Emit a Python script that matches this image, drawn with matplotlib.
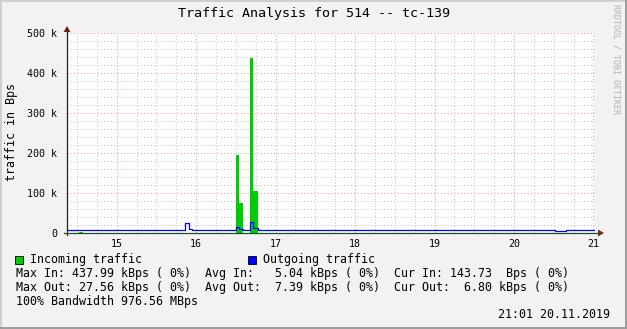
#!/usr/bin/env python3

# Traffic graph for tc-139, redrawn in the look of an rrdtool graph.

import numpy as np
import matplotlib
matplotlib.use('Agg')
import matplotlib.pyplot as plt
from matplotlib.patches import Rectangle, Polygon

# step edges (day of month) and values in kBps
t = [14.374, 14.525, 14.575, 15.865, 15.910, 15.944, 16.502, 16.540, 16.586,
     16.678, 16.721, 16.775, 20.516, 20.649, 21.02]
in_k = [0.3, 3.0, 0.3, 0.3, 0.3, 0.3, 195.0, 75.0, 0.3,
        437.99, 105.0, 0.3, 0.3, 0.3, 0.3]
out_k = [7.5, 7.5, 7.5, 24.0, 10.0, 7.5, 14.0, 9.0, 7.5,
         27.56, 12.5, 7.5, 4.0, 7.5, 7.5]

day_ticks = [15, 16, 17, 18, 19, 20, 21]
y_ticks = [0, 100, 200, 300, 400, 500]
y_labels = ['0', '100 k', '200 k', '300 k', '400 k', '500 k']

title = 'Traffic Analysis for 514 -- tc-139'
legend_in = 'Incoming traffic'
legend_out = 'Outgoing traffic'
line_in = 'Max In: 437.99 kBps ( 0%)  Avg In:   5.04 kBps ( 0%)  Cur In: 143.73  Bps ( 0%)'
line_out = 'Max Out: 27.56 kBps ( 0%)  Avg Out:  7.39 kBps ( 0%)  Cur Out:  6.80 kBps ( 0%)'
line_bw = '100% Bandwidth 976.56 MBps'
stamp = '21:01 20.11.2019'

W, H = 627, 329
mono = 'DejaVu Sans Mono'

fig = plt.figure(figsize=(W/100, H/100), dpi=100)
fig.patch.set_facecolor('#f2f2f2')

def fx(px):
    return px / W

def fy(py):
    return 1 - py / H

# frame shading like rrdtool
fig.add_artist(Rectangle((0, 0), fx(2), 1, transform=fig.transFigure, color='#cfcfcf', lw=0))
fig.add_artist(Rectangle((0, fy(2)), 1, fx(2) * W / H, transform=fig.transFigure, color='#cfcfcf', lw=0))
fig.add_artist(Rectangle((fx(625), 0), fx(2), 1, transform=fig.transFigure, color='#9e9e9e', lw=0))
fig.add_artist(Rectangle((0, 0), 1, 2 / H, transform=fig.transFigure, color='#9e9e9e', lw=0))

x0, x1 = 67, 595
y0, y1 = 233, 33
ax = fig.add_axes([fx(x0), fy(y0), fx(x1 - x0), (y0 - y1) / H])
ax.set_facecolor('white')
ax.set_xlim(14.374, 21.02)
ax.set_ylim(0, 500)
for s in ax.spines.values():
    s.set_visible(False)

# grid
for v in np.arange(14.5, 21.01, 0.25):
    if abs(v - round(v)) > 1e-6:
        ax.axvline(v, color='#c8c8c8', lw=0.8, ls=(0, (1, 2)), zorder=0)
for v in range(20, 500, 20):
    if v % 100:
        ax.axhline(v, color='#c8c8c8', lw=0.8, ls=(0, (1, 2)), zorder=0)
for v in day_ticks:
    ax.axvline(v, color='#e8a0a0', lw=0.8, ls=(0, (1, 2)), zorder=0.5)
for v in y_ticks[1:]:
    ax.axhline(v, color='#e8a0a0', lw=0.8, ls=(0, (1, 2)), zorder=0.5)

ax.fill_between(t, in_k, step='post', color='#00cc00', lw=0, zorder=2)
ax.step(t, out_k, where='post', color='#0000ff', lw=0.9, zorder=3)

ax.set_xticks(day_ticks)
ax.set_xticklabels([str(d) for d in day_ticks], fontfamily=mono, fontsize=7.2)
ax.set_yticks(y_ticks)
ax.set_yticklabels(y_labels, fontfamily=mono, fontsize=7.2)
ax.tick_params(axis='both', length=0, pad=4)
ax.tick_params(axis='y', pad=7)

# axes lines with arrows
fig.add_artist(plt.Line2D([fx(x0), fx(x0)], [fy(y0 + 2), fy(29)], color='#1f1f1f', lw=0.9))
fig.add_artist(plt.Line2D([fx(x0 - 3), fx(600)], [fy(y0), fy(y0)], color='#1f4f1f', lw=0.9))
fig.add_artist(Polygon([[fx(63.5), fy(32)], [fx(70.5), fy(32)], [fx(67), fy(26)]],
                       closed=True, transform=fig.transFigure, color='#801f1f', lw=0))
fig.add_artist(Polygon([[fx(598), fy(229.5)], [fx(598), fy(236.5)], [fx(604), fy(233)]],
                       closed=True, transform=fig.transFigure, color='#801f1f', lw=0))

fig.text(0.5, fy(14), title, ha='center', va='center', fontfamily=mono, fontsize=9.6)
fig.text(fx(12), fy(132), 'traffic in Bps', rotation=90, ha='center', va='center',
         fontfamily=mono, fontsize=8.4)
fig.text(fx(616), fy(4), 'RRDTOOL / TOBI OETIKER', rotation=270, ha='center', va='top',
         fontfamily=mono, fontsize=6.0, color='#b0b0b0')

# legend
fig.add_artist(Rectangle((fx(15), fy(264)), fx(8), 8 / H, transform=fig.transFigure,
                         facecolor='#00cc00', edgecolor='black', lw=0.6))
fig.text(fx(30), fy(259), legend_in, ha='left', va='center', fontfamily=mono, fontsize=8.4)
fig.add_artist(Rectangle((fx(248), fy(264)), fx(8), 8 / H, transform=fig.transFigure,
                         facecolor='#0000ff', edgecolor='black', lw=0.6))
fig.text(fx(263), fy(259), legend_out, ha='left', va='center', fontfamily=mono, fontsize=8.4)

fig.text(fx(16), fy(273), line_in, ha='left', va='center', fontfamily=mono, fontsize=8.4)
fig.text(fx(16), fy(287), line_out, ha='left', va='center', fontfamily=mono, fontsize=8.4)
fig.text(fx(16), fy(301), line_bw, ha='left', va='center', fontfamily=mono, fontsize=8.4)
fig.text(fx(610), fy(315), stamp, ha='right', va='center', fontfamily=mono, fontsize=8.4)

fig.savefig('out.png', dpi=100, facecolor=fig.get_facecolor())
plt.close(fig)
